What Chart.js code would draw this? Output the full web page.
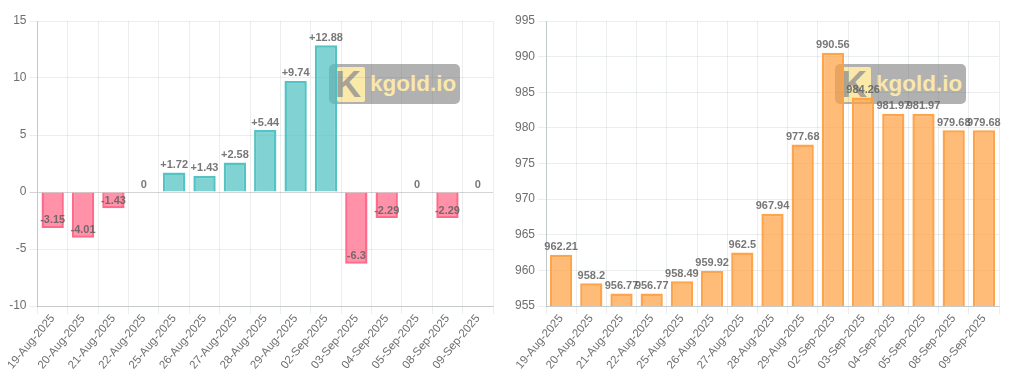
<!DOCTYPE html>
<html><head><meta charset="utf-8">
<script src="https://cdn.jsdelivr.net/npm/chart.js@4"></script>
<style>
html,body{margin:0;padding:0;background:#fff;width:1024px;height:389px;overflow:hidden}
.c{position:absolute;top:0;height:389px;z-index:2}
.wm{position:absolute;top:64px;width:131px;height:40px;border-radius:5px;background:rgba(70,70,70,.42);z-index:1}
.logo{position:absolute;left:8px;top:3px;width:28px;height:35px;border-radius:2px;background:rgba(255,236,170,.95);color:#a8a397;font:bold 36px/35px "Liberation Sans",Arial,sans-serif;text-align:left;overflow:hidden;text-indent:-2px}
.wt{position:absolute;left:41px;top:3px;color:rgba(255,236,170,.95);font:bold 22.5px/34px "Liberation Sans",Arial,sans-serif;white-space:nowrap}
</style></head><body>
<div class="c" style="left:0;width:512px"><canvas id="a" width="512" height="389"></canvas></div>
<div class="c" style="left:512px;width:512px"><canvas id="b" width="512" height="389"></canvas></div>
<div class="wm" style="left:329px"><div class="logo">K</div><div class="wt">kgold.io</div></div>
<div class="wm" style="left:835px"><div class="logo">K</div><div class="wt">kgold.io</div></div>
<script>
const dates=["19-Aug-2025","20-Aug-2025","21-Aug-2025","22-Aug-2025","25-Aug-2025","26-Aug-2025","27-Aug-2025","28-Aug-2025","29-Aug-2025","02-Sep-2025","03-Sep-2025","04-Sep-2025","05-Sep-2025","08-Sep-2025","09-Sep-2025"];
const changes=[-3.15,-4.01,-1.43,0,1.72,1.43,2.58,5.44,9.74,12.88,-6.3,-2.29,0,-2.29,0];
const prices=[962.21,958.2,956.77,956.77,958.49,959.92,962.5,967.94,977.68,990.56,984.26,981.97,981.97,979.68,979.68];
const FONT='"Liberation Sans",Arial,sans-serif';
const TEAL='75,192,192',PINK='255,99,132',ORANGE='255,159,64';
const labelPlugin={id:'vals',afterDatasetsDraw(ch){
  const x=ch.ctx,m=ch.getDatasetMeta(0),d=ch.data.datasets[0].data,signed=ch.options.signed;
  x.save();x.font='bold 11px '+FONT;x.textAlign='center';x.textBaseline='bottom';
  x.fillStyle='rgba(95,95,95,.85)';
  m.data.forEach((el,i)=>{const v=d[i];const t=signed&&v>0?'+'+v:String(v);x.fillText(t,el.x,el.y-2);});
  x.restore();}};
function make(id,data,colors,min,max,step,left,padR,signed){
  new Chart(document.getElementById(id),{type:'bar',
   data:{labels:dates,datasets:[{data,backgroundColor:colors.map(c=>`rgba(${c},.7)`),borderColor:colors.map(c=>`rgba(${c},.95)`),borderWidth:2.5,barPercentage:.92}]},
   options:{responsive:false,animation:false,signed,
    layout:{padding:{top:21,right:padR,left:0,bottom:0}},
    plugins:{legend:{display:false},tooltip:{enabled:false}},
    scales:{
     x:{ticks:{color:'#6e6e6e',font:{size:11.5,family:FONT},minRotation:50,maxRotation:50,autoSkip:false,padding:-2},
        grid:{color:'rgba(90,120,120,.13)'},border:{color:'rgba(0,0,0,.15)'},
        afterFit(s){s.height=83;}},
     y:{min,max,ticks:{stepSize:step,color:'#6e6e6e',font:{size:12,family:FONT}},
        grid:{color:c=>c.tick.value===0?'rgba(0,0,0,.17)':'rgba(90,120,120,.13)'},border:{color:'rgba(90,120,120,.3)'},
        afterFit(s){s.width=left;}}
    }},plugins:[labelPlugin]});
}
make('a',changes,changes.map(v=>v<0?PINK:TEAL),-10,15,5,37.5,19,true);
make('b',prices,prices.map(()=>ORANGE),955,995,5,34,25,false);
</script></body></html>
